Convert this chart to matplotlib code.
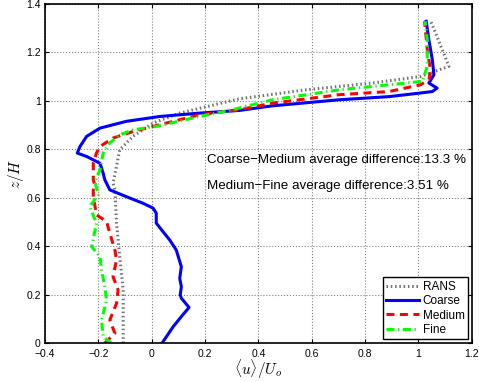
import matplotlib
matplotlib.use('Agg')
import matplotlib.pyplot as plt

plt.rcParams['font.family'] = 'Liberation Sans'
plt.rcParams['mathtext.fontset'] = 'cm'

# profiles: (u/Uo, z/H)
rans_u = [-0.107, -0.107, -0.120, -0.132, -0.138, -0.145, -0.132, -0.120, -0.070, 0.005,
          0.105, 0.329, 0.578, 0.827, 1.008, 1.114, 1.089, 1.064, 1.046]
rans_z = [0.0, 0.219, 0.357, 0.494, 0.632, 0.660, 0.729, 0.798, 0.853, 0.908,
          0.949, 1.008, 1.045, 1.073, 1.100, 1.142, 1.211, 1.280, 1.328]

coarse_u = [0.039, 0.080, 0.111, 0.140, 0.111, 0.107, 0.111, 0.105, 0.111, 0.092, 0.067,
            0.042, 0.017, 0.017, 0.005, -0.033, -0.095, -0.157, -0.176, -0.182, -0.194,
            -0.244, -0.279, -0.269, -0.244, -0.194, -0.095, 0.030, 0.179, 0.329, 0.453,
            0.703, 0.890, 1.008, 1.052, 1.070, 1.039, 1.058, 1.052, 1.039, 1.029]
coarse_z = [0.0, 0.067, 0.109, 0.147, 0.185, 0.199, 0.233, 0.267, 0.315, 0.384, 0.426,
            0.460, 0.495, 0.536, 0.557, 0.577, 0.604, 0.632, 0.674, 0.701, 0.742,
            0.770, 0.784, 0.811, 0.853, 0.887, 0.915, 0.935, 0.949, 0.960, 0.979,
            1.004, 1.017, 1.032, 1.038, 1.052, 1.073, 1.107, 1.169, 1.252, 1.328]

medium_u = [-0.176, -0.138, -0.157, -0.132, -0.126, -0.145, -0.132, -0.138, -0.157, -0.169,
            -0.207, -0.219, -0.219, -0.213, -0.219, -0.219, -0.207, -0.194, -0.145, -0.070,
            0.030, 0.179, 0.329, 0.453, 0.703, 0.890, 1.008, 1.039, 1.046, 1.033, 1.023]
medium_z = [0.0, 0.040, 0.095, 0.164, 0.219, 0.274, 0.343, 0.384, 0.453, 0.501,
            0.529, 0.604, 0.632, 0.650, 0.674, 0.742, 0.784, 0.811, 0.846, 0.873,
            0.901, 0.942, 0.963, 0.990, 1.025, 1.038, 1.066, 1.087, 1.120, 1.211, 1.328]

fine_u = [-0.151, -0.182, -0.188, -0.169, -0.176, -0.188, -0.194, -0.225, -0.207, -0.232,
          -0.201, -0.213, -0.194, -0.182, -0.157, -0.120, -0.070, 0.017, 0.179, 0.304,
          0.453, 0.703, 0.890, 1.015, 1.033, 1.033, 1.025]
fine_z = [0.0, 0.026, 0.095, 0.177, 0.233, 0.302, 0.357, 0.398, 0.494, 0.563,
          0.612, 0.667, 0.714, 0.784, 0.826, 0.859, 0.880, 0.894, 0.935, 0.963,
          1.004, 1.045, 1.066, 1.080, 1.142, 1.252, 1.328]

fig = plt.figure(figsize=(4.79, 3.82), dpi=100)
ax = fig.add_axes([0.094, 0.102, 0.891, 0.888])

ax.plot(rans_u, rans_z, color='0.45', linestyle=(0, (0.5, 0.9)), linewidth=2.2, label='RANS')
ax.plot(coarse_u, coarse_z, color='blue', linestyle='-', linewidth=2.2, label='Coarse')
ax.plot(medium_u, medium_z, color='red', linestyle=(0, (2.6, 1.8)), linewidth=2.2, label='Medium')
ax.plot(fine_u, fine_z, color='#00ff00', linestyle=(0, (2.6, 1.2, 0.4, 1.2)), linewidth=2.2,
        label='Fine')

ax.text(0.206, 0.756, 'Coarse\u2212Medium average difference:13.3 %', fontsize=9.6, va='center')
ax.text(0.206, 0.649, 'Medium\u2212Fine average difference:3.51 %', fontsize=9.6, va='center')

ax.set_xlim(-0.4, 1.2)
ax.set_ylim(0, 1.4)
ax.set_xticks([-0.4, -0.2, 0, 0.2, 0.4, 0.6, 0.8, 1, 1.2])
ax.set_xticklabels(['\u22120.4', '\u22120.2', '0', '0.2', '0.4', '0.6', '0.8', '1', '1.2'])
ax.set_yticks([0, 0.2, 0.4, 0.6, 0.8, 1, 1.2, 1.4])
ax.set_yticklabels(['0', '0.2', '0.4', '0.6', '0.8', '1', '1.2', '1.4'])
ax.tick_params(labelsize=7.5, direction='in', length=3, width=0.8, top=True, right=True, pad=3)
ax.tick_params(axis='x', pad=4.5)
ax.grid(True, linestyle=':', color='0.5', linewidth=0.8)
for s in ax.spines.values():
    s.set_linewidth(1.2)

ax.set_xlabel(r'$\langle u\rangle/U_o$', fontsize=11, labelpad=-1)
ax.set_ylabel(r'$z/H$', fontsize=11, labelpad=0)

leg = ax.legend(loc='lower right', fontsize=8.5, fancybox=False, framealpha=1,
                edgecolor='black', handlelength=2.8, borderpad=0.3, labelspacing=0.2,
                handletextpad=0.3, borderaxespad=0.3)
leg.get_frame().set_linewidth(1.0)

fig.savefig('out.png', dpi=100)
